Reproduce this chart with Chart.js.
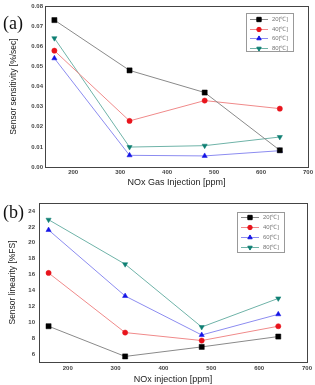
<!DOCTYPE html>
<html>
<head>
<meta charset="utf-8">
<script src="https://cdn.jsdelivr.net/npm/chart.js@4.4.1/dist/chart.umd.min.js"></script>
<style>
  body { margin: 0; background: #fff; width: 315px; height: 385px; position: relative; overflow: hidden; }
  canvas { position: absolute; left: 0; }
  .tag { position: absolute; left: 3px; font-family: "Liberation Serif", serif; font-size: 18px; color: #111; z-index: 2; line-height: 1; }
</style>
</head>
<body>
<canvas id="c1" width="315" height="190" style="top:0"></canvas>
<canvas id="c2" width="315" height="195" style="top:190px"></canvas>
<div class="tag" style="top:14px">(a)</div>
<div class="tag" style="top:203px">(b)</div>
<script>
// data
var injection = [160, 320, 480, 640];
var seriesLabels = ['20[\u2103]', '40[\u2103]', '60[\u2103]', '80[\u2103]'];
var xTicks = [200, 300, 400, 500, 600, 700];

var sens20 = [0.073, 0.048, 0.037, 0.0083];
var sens40 = [0.0578, 0.0229, 0.033, 0.029];
var sens60 = [0.054, 0.0058, 0.0055, 0.0081];
var sens80 = [0.064, 0.0099, 0.0106, 0.0149];
var sensTicks = [0, 0.01, 0.02, 0.03, 0.04, 0.05, 0.06, 0.07, 0.08];

var lin20 = [9.5, 5.7, 6.9, 8.2];
var lin40 = [16.2, 8.7, 7.7, 9.5];
var lin60 = [21.6, 13.3, 8.4, 11.0];
var lin80 = [22.9, 17.3, 9.4, 13.0];
var linTicks = [6, 8, 10, 12, 14, 16, 18, 20, 22, 24];

var styles = [
  { line: '#8a8a8a', mark: '#000000', shape: 'rect', rot: 0, r: 3.6 },
  { line: '#f08a8a', mark: '#e8141c', shape: 'circle', rot: 0, r: 2.6 },
  { line: '#8c8cf0', mark: '#1414e6', shape: 'triangle', rot: 0, r: 3 },
  { line: '#6fb3a8', mark: '#0e7f73', shape: 'triangle', rot: 180, r: 3 }
];

// box round the plot area
var frame = {
  id: 'frame',
  afterDraw: function(chart) {
    var a = chart.chartArea, ctx = chart.ctx;
    ctx.save();
    ctx.strokeStyle = '#444';
    ctx.lineWidth = 1;
    ctx.strokeRect(Math.round(a.left) + 0.5, Math.round(a.top) + 0.5,
      Math.round(a.right - a.left), Math.round(a.bottom - a.top));
    ctx.restore();
  }
};

// legend drawn inside the plot, top right
var insideLegend = {
  id: 'insideLegend',
  afterDraw: function(chart, args, o) {
    var ctx = chart.ctx;
    ctx.save();
    ctx.fillStyle = '#fff';
    ctx.fillRect(o.x, o.y, o.w, o.h);
    ctx.strokeStyle = '#999';
    ctx.lineWidth = 1;
    ctx.strokeRect(o.x + 0.5, o.y + 0.5, o.w, o.h);
    ctx.font = '6px "Liberation Sans", sans-serif';
    ctx.textBaseline = 'middle';
    chart.data.datasets.forEach(function(ds, i) {
      var yy = Math.round(o.y + o.rowTop + i * o.rowGap) + 0.5;
      ctx.strokeStyle = ds.borderColor;
      ctx.beginPath();
      ctx.moveTo(o.x + 4, yy);
      ctx.lineTo(o.x + 22, yy);
      ctx.stroke();
      ctx.fillStyle = ds.pointBackgroundColor;
      ctx.strokeStyle = ds.pointBorderColor;
      Chart.helpers.drawPoint(ctx, { pointStyle: ds.pointStyle, radius: ds.pointRadius * 0.85, rotation: ds.pointRotation, borderWidth: 0.5 }, o.x + 13, yy);
      ctx.fillStyle = '#777';
      ctx.fillText(ds.label, o.x + 26, yy);
    });
    ctx.restore();
  }
};

function makeSets(lists) {
  return lists.map(function(vals, i) {
    var s = styles[i];
    return {
      label: seriesLabels[i],
      data: injection.map(function(x, j) { return { x: x, y: vals[j] }; }),
      borderColor: s.line,
      borderWidth: 1,
      pointStyle: s.shape,
      pointRotation: s.rot,
      pointRadius: s.r,
      pointBackgroundColor: s.mark,
      pointBorderColor: s.mark,
      pointBorderWidth: 0.5,
      tension: 0
    };
  });
}

function makeChart(id, lists, o) {
  var tickFont = { family: '"Liberation Sans", sans-serif', size: 6, weight: 'bold' };
  return new Chart(document.getElementById(id), {
    type: 'line',
    data: { datasets: makeSets(lists) },
    options: {
      responsive: false,
      animation: false,
      layout: { padding: { top: o.padTop, right: 7, left: 0, bottom: 0 } },
      plugins: {
        legend: { display: false },
        tooltip: { enabled: false },
        insideLegend: o.legend
      },
      scales: {
        x: {
          type: 'linear',
          min: 140, max: 700,
          afterBuildTicks: function(s) { s.ticks = xTicks.map(function(v) { return { value: v }; }); },
          afterFit: function(s) { s.height = o.xHeight; },
          grid: { display: false, drawTicks: false },
          border: { display: false },
          ticks: { font: tickFont, color: '#444', padding: o.xPad, maxRotation: 0 },
          title: { display: true, text: o.xTitle, color: '#222', padding: { top: 0, bottom: o.xTitlePad },
                   font: { family: '"Liberation Sans", sans-serif', size: 9 } }
        },
        y: {
          min: o.yMin, max: o.yMax,
          afterBuildTicks: function(s) { s.ticks = o.yTicks.map(function(v) { return { value: v }; }); },
          afterFit: function(s) { s.width = o.yWidth; },
          grid: { display: false, drawTicks: false },
          border: { display: false },
          ticks: { font: tickFont, color: '#444', padding: o.yPad,
                   callback: function(v) { return v.toFixed(o.dec); } },
          title: { display: true, text: o.yTitle, color: '#222', padding: { top: o.yTitlePad, bottom: 0 },
                   font: { family: '"Liberation Sans", sans-serif', size: 8.5 } }
        }
      }
    },
    plugins: [frame, insideLegend]
  });
}

makeChart('c1', [sens20, sens40, sens60, sens80], {
  padTop: 6, xHeight: 23, yWidth: 45, xPad: 2, yPad: 2, xTitlePad: 2, yTitlePad: 8.5,
  yMin: 0, yMax: 0.08, yTicks: sensTicks, dec: 2,
  xTitle: 'NOx Gas Injection [ppm]', yTitle: 'Sensor sensitivity [%/sec]',
  legend: { x: 246, y: 13, w: 47, h: 38, rowTop: 6, rowGap: 9.7 }
});

makeChart('c2', [lin20, lin40, lin60, lin80], {
  padTop: 13, xHeight: 23, yWidth: 39, xPad: 3, yPad: 4, xTitlePad: 0, yTitlePad: 8,
  yMin: 5, yMax: 25, yTicks: linTicks, dec: 0,
  xTitle: 'NOx injection [ppm]', yTitle: 'Sensor linearity [%FS]',
  legend: { x: 237, y: 22, w: 47, h: 40, rowTop: 5, rowGap: 10 }
});
</script>
</body>
</html>
